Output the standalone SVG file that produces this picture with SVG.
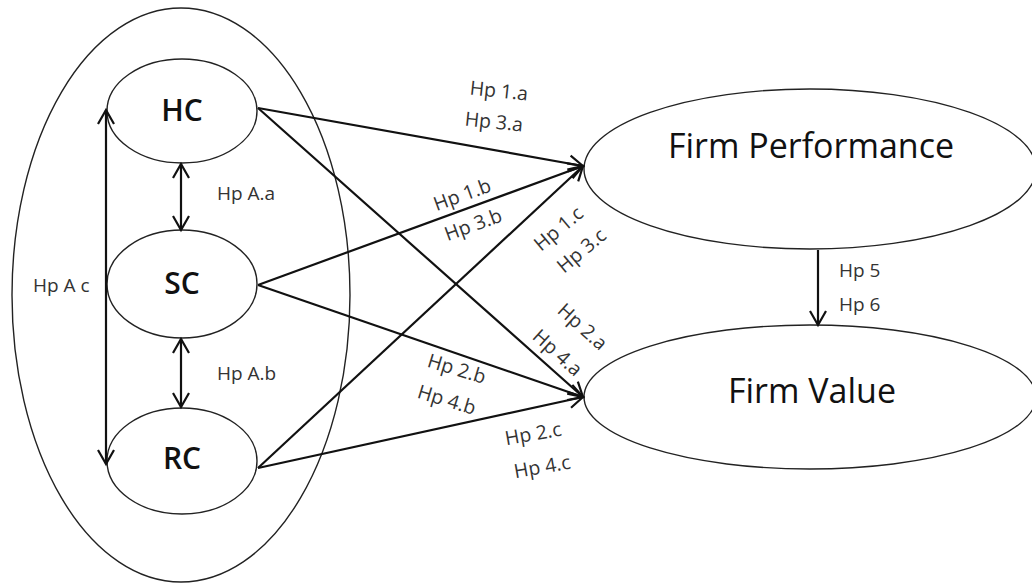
<svg xmlns="http://www.w3.org/2000/svg" width="1032" height="584" viewBox="0 0 1032 584">
<style>
.ell{fill:#fff;stroke:#222;stroke-width:1.4}
.outer{fill:none;stroke:#222;stroke-width:1.4}
.node{font-family:"Open Sans","Liberation Sans",sans-serif;font-size:30px;font-weight:600;fill:#111;text-anchor:middle}
.big{font-family:"Open Sans","Liberation Sans",sans-serif;font-size:34px;font-weight:500;fill:#111;text-anchor:middle}
.lbl{font-family:"Open Sans","Liberation Sans",sans-serif;font-size:19.5px;fill:#333;text-anchor:middle;dominant-baseline:central}
.lbll{font-family:"Open Sans","Liberation Sans",sans-serif;font-size:19px;fill:#333;dominant-baseline:central}
.con{stroke:#111;stroke-width:2.2;fill:none}
</style>
<defs>
<marker id="ah" markerUnits="userSpaceOnUse" markerWidth="20" markerHeight="20" refX="16" refY="10" orient="auto-start-reverse">
<path d="M2,2 L16,10 L2,18" fill="none" stroke="#111" stroke-width="2.2"/>
</marker>
</defs>
<rect width="1032" height="584" fill="#fff"/>
<g id="group-outer"><ellipse class="outer" cx="181" cy="295" rx="169" ry="287"/></g>
<g id="node-hc"><ellipse class="ell" cx="182" cy="111" rx="75" ry="52"/><text class="node" x="182" y="121">HC</text></g>
<g id="node-sc"><ellipse class="ell" cx="182" cy="284" rx="75" ry="54"/><text class="node" x="182" y="294">SC</text></g>
<g id="node-rc"><ellipse class="ell" cx="182" cy="461" rx="75" ry="53"/><text class="node" x="182" y="469">RC</text></g>
<g id="node-fp"><ellipse class="ell" cx="810" cy="169" rx="226" ry="80"/><text class="big" x="811" y="158">Firm Performance</text></g>
<g id="node-fv"><ellipse class="ell" cx="810" cy="397" rx="226" ry="72"/><text class="big" x="812" y="403">Firm Value</text></g>
<g id="connectors">
<line class="con" x1="181" y1="164" x2="181" y2="230" marker-start="url(#ah)" marker-end="url(#ah)"/>
<line class="con" x1="181" y1="339" x2="181" y2="407" marker-start="url(#ah)" marker-end="url(#ah)"/>
<line class="con" x1="106" y1="110" x2="106" y2="464" marker-start="url(#ah)" marker-end="url(#ah)"/>
<line class="con" x1="258" y1="108" x2="583" y2="166" marker-end="url(#ah)"/>
<line class="con" x1="258" y1="108" x2="583" y2="397" marker-end="url(#ah)"/>
<line class="con" x1="258" y1="285" x2="583" y2="166" marker-end="url(#ah)"/>
<line class="con" x1="258" y1="285" x2="583" y2="397" marker-end="url(#ah)"/>
<line class="con" x1="258" y1="468" x2="583" y2="166" marker-end="url(#ah)"/>
<line class="con" x1="258" y1="468" x2="583" y2="397" marker-end="url(#ah)"/>
<line class="con" x1="818" y1="250" x2="818" y2="325" marker-end="url(#ah)"/>
</g>
<g id="labels">
<text class="lbl" transform="translate(499,90) rotate(6)">Hp 1.a</text>
<text class="lbl" transform="translate(494,121) rotate(6)">Hp 3.a</text>
<text class="lbl" transform="translate(462,194) rotate(-20)">Hp 1.b</text>
<text class="lbl" transform="translate(473,224) rotate(-20)">Hp 3.b</text>
<text class="lbl" transform="translate(558,228) rotate(-40)">Hp 1.c</text>
<text class="lbl" transform="translate(581,250) rotate(-40)">Hp 3.c</text>
<text class="lbl" transform="translate(583,326) rotate(42)">Hp 2.a</text>
<text class="lbl" transform="translate(558,352) rotate(42)">Hp 4.a</text>
<text class="lbl" transform="translate(457,368) rotate(17)">Hp 2.b</text>
<text class="lbl" transform="translate(447,399) rotate(17)">Hp 4.b</text>
<text class="lbl" transform="translate(533,433) rotate(-10)">Hp 2.c</text>
<text class="lbl" transform="translate(542,466) rotate(-10)">Hp 4.c</text>
<text class="lbll" x="217" y="193">Hp A.a</text>
<text class="lbll" x="217" y="373">Hp A.b</text>
<text class="lbll" x="33" y="285">Hp A c</text>
<text class="lbll" x="839" y="270">Hp 5</text>
<text class="lbll" x="839" y="304">Hp 6</text>
</g>
</svg>
